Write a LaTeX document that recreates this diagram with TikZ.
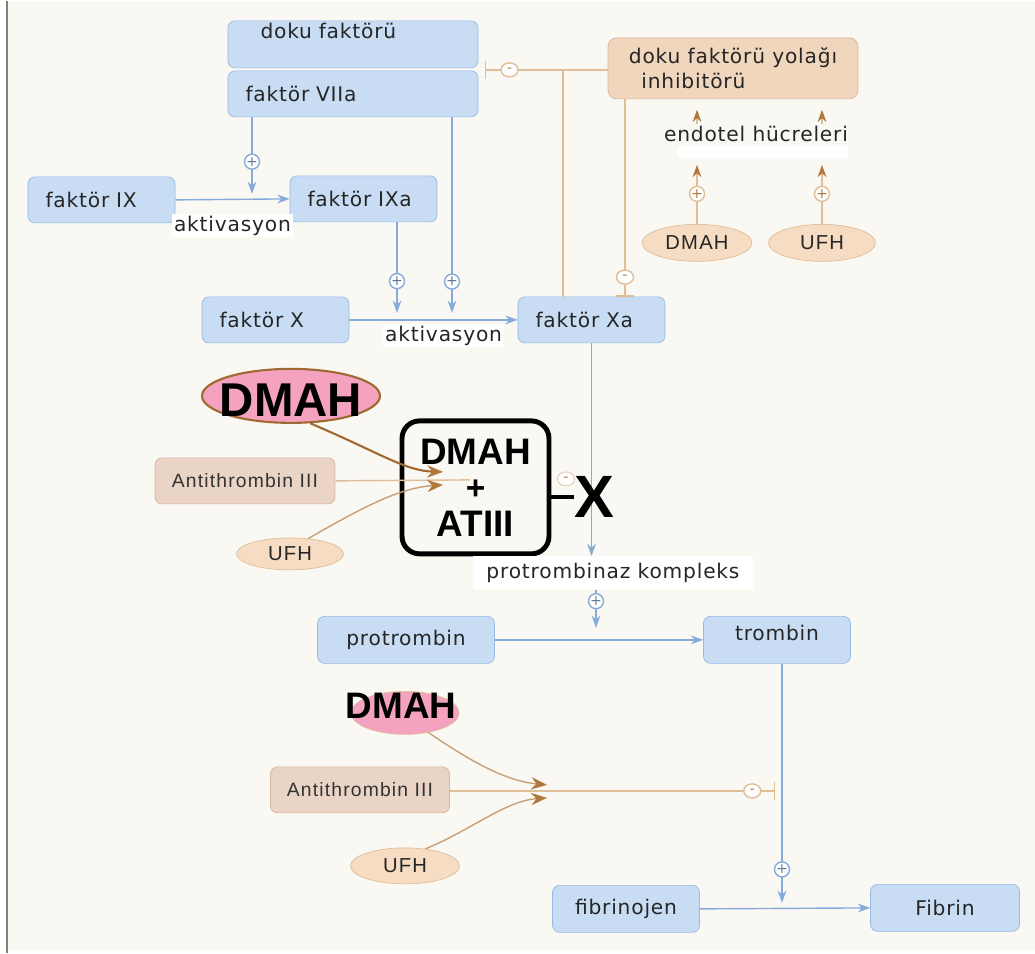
\documentclass[tikz,border=0pt]{standalone}
\usepackage{fontspec}
\setmainfont{DejaVu Sans}[LetterSpace=4]
\newfontfamily\arialfont{Liberation Sans}[LetterSpace=6]
\newfontfamily\boldarial{Liberation Sans}
\usetikzlibrary{arrows.meta,shapes.geometric}
\definecolor{bgcream}{RGB}{250,248,243}
\definecolor{fillblue}{RGB}{200,221,244}
\definecolor{boxblue}{RGB}{150,185,230}
\definecolor{lineblue}{RGB}{135,170,220}
\definecolor{tanline}{RGB}{224,190,152}
\definecolor{brownarr}{RGB}{176,120,60}
\definecolor{darkbrown}{RGB}{160,105,50}
\definecolor{peach}{RGB}{245,220,194}
\definecolor{tfpifill}{RGB}{240,214,188}
\definecolor{atfill}{RGB}{234,212,198}
\definecolor{atdraw}{RGB}{216,180,158}
\definecolor{pinkfill}{RGB}{244,162,192}
\begin{document}
\begin{tikzpicture}[x=0.02cm, y=-0.02cm,
  fac/.style={draw=boxblue, fill=fillblue, rounded corners=4pt, minimum height=0.92cm, align=left, inner xsep=10pt, text=black!85, font=\fontsize{11.5}{14}\selectfont},
  prod/.style={draw=boxblue, fill=fillblue, rounded corners=4pt, minimum height=0.94cm, text=black!85, font=\fontsize{11.5}{14}\selectfont},
  atbox/.style={draw=atdraw, fill=atfill, rounded corners=4pt, minimum width=3.58cm, minimum height=0.92cm, text=black!80, font=\arialfont\fontsize{11}{13}\selectfont},
  drug/.style={ellipse, draw=tanline, fill=peach, inner sep=0pt, text=black!85, font=\arialfont\fontsize{11.5}{13}\selectfont},
  lbl/.style={fill=white, inner sep=1pt, text=black!85, font=\fontsize{11.5}{14}\selectfont},
  blink/.style={lineblue, line width=0.8pt},
  barr/.style={blink, -{Stealth[length=7pt,width=5pt]}},
  tlink/.style={tanline, line width=0.8pt},
  tarr/.style={tlink, -{Stealth[length=7pt,width=5pt,color=brownarr]}},
  brarr/.style={brownarr!70, line width=0.8pt, -{Stealth[length=9pt,width=7pt,color=brownarr]}},
  tbar/.style={tlink, -{Bar[width=10pt]}},
  plus/.style={circle, draw=lineblue, fill=white, inner sep=0pt, minimum size=0.3cm, text=lineblue!70!black, font=\fontsize{8}{8}\selectfont},
  tplus/.style={plus, draw=tanline, text=brownarr},
  minus/.style={ellipse, draw=tanline, fill=white, inner sep=0pt, minimum width=0.34cm, minimum height=0.28cm, text=brownarr, font=\fontsize{8}{8}\selectfont}
]
% background
\fill[white] (0,0) rectangle (1035,952);
\fill[bgcream] (7,0) rectangle (1035,949);
\draw[gray, line width=1pt] (7,0) -- (7,952);
\useasboundingbox (0,0) rectangle (1035,952);

% factors
\node[fac, text width=4.3cm, minimum height=0.94cm, text depth=15pt, inner ysep=1pt] (df) at (353,43.5) {\hspace*{0.3cm}doku faktörü};
\node[fac, text width=4.3cm] (f7) at (353,93) {faktör VIIa};
\node[fac, text width=2.24cm] (fIX) at (101.5,199) {faktör IX};
\node[fac, text width=2.24cm] (fIXa) at (363.5,198) {faktör IXa};
\node[fac, text width=2.24cm] (fX) at (275.5,319) {faktör X};
\node[fac, text width=2.24cm] (fXa) at (591.5,319) {faktör Xa};

% inhibitor and drugs
\node[draw=atdraw, fill=tfpifill, rounded corners=5pt, minimum width=5cm, minimum height=1.22cm, align=left, text=black!85, font=\fontsize{11.5}{14}\selectfont] (tfpi) at (733,67.5) {doku faktörü yolağı\\\hspace*{0.25cm}inhibitörü};
\node[lbl, fill=none] (endo) at (756,133) {endotel hücreleri};
\fill[white] (677,145) rectangle (848,157);
\node[drug, minimum width=2.2cm, minimum height=0.74cm] (dm) at (697,242) {DMAH};
\node[drug, minimum width=2.14cm, minimum height=0.74cm] (uf) at (822,242) {UFH};

% middle
\node[ellipse, draw=darkbrown, line width=1.2pt, fill=pinkfill, inner sep=0pt, minimum width=3.56cm, minimum height=1.08cm] (dm1) at (291,395) {};
\node[font=\boldarial\bfseries\fontsize{27}{27}\selectfont] (dm1t) at (291,399) {DMAH};
\node[atbox, minimum width=3.6cm] (at1) at (245,480) {Antithrombin III};
\node[drug, minimum width=2.14cm, minimum height=0.64cm] (uf1) at (290,553) {UFH};
\node[draw, line width=2.8pt, rounded corners=10pt, minimum width=2.94cm, minimum height=2.66cm, align=center, font=\boldarial\bfseries\fontsize{21}{19}\selectfont] (cx) at (475.5,486.5) {DMAH\\[1pt]{\fontsize{19}{19}\selectfont+}\\[2pt]ATIII};
\node[lbl, minimum width=5.6cm, minimum height=0.66cm] (pk) at (613,572) {protrombinaz kompleks};

% lower
\node[prod, minimum width=3.54cm] (pro) at (406,639) {protrombin};
\node[prod, minimum width=2.94cm, text depth=8pt] (tro) at (777,639) {trombin};
\node[prod, minimum width=2.94cm] (fib) at (626,908) {fibrinojen};
\node[prod, minimum width=2.98cm] (fin) at (945,907) {Fibrin};
\node[ellipse, draw=tanline, fill=pinkfill, inner sep=0pt, minimum width=2.16cm, minimum height=0.86cm] (dm2) at (405,712) {};
\node[font=\boldarial\bfseries\fontsize{21}{21}\selectfont] (dm2t) at (401,705) {DMAH};
\node[atbox] (at2) at (360,789) {Antithrombin III};
\node[drug, minimum width=2.18cm, minimum height=0.72cm] (uf2) at (405,865) {UFH};

% activations
\draw[barr] (fIX.east) -- (fIXa.west) node[lbl, midway, below=8pt] (a1) {aktivasyon};
\draw[barr] (fX.east) -- (fXa.west) node[lbl, pos=0.56, below=2pt] (a2) {aktivasyon};
\coordinate (r1) at (252,193);
\draw[barr] (f7.south -| r1) -- node[plus, pos=0.58] (p1) {+} (r1);
\coordinate (r2) at (397,312);
\draw[barr] (fIXa.south -| r2) -- node[plus, pos=0.65] (p2) {+} (r2);
\coordinate (r3) at (452,312);
\draw[barr] (f7.south -| r3) -- node[plus, pos=0.84] (p3) {+} (r3);

% inhibitor links
\coordinate (h1) at (485,69);
\draw[tbar] (tfpi.west |- h1) -- node[minus, pos=0.8] (n1) {-} (h1);
\coordinate (j1) at (563,69);
\draw[tlink] (j1) -- (j1 |- fXa.north);
\coordinate (h2) at (625,296);
\draw[tbar] (tfpi.south -| h2) -- node[minus, pos=0.9] (n2) {-} (h2);
\coordinate (e1) at (697,164);
\coordinate (e2) at (822,164);
\draw[tarr] (dm.north) -- node[tplus, pos=0.51] (p4) {+} (e1);
\draw[tarr] (uf.north) -- node[tplus, pos=0.51] (p5) {+} (e2);
\draw[tarr, shorten >=6pt] (endo.north -| e1) -- (tfpi.south -| e1);
\draw[tarr, shorten >=6pt] (endo.north -| e2) -- (tfpi.south -| e2);

% complex
\coordinate (k1) at (443,471);
\coordinate (k2) at (470,479);
\coordinate (k3) at (443,484);
\draw[brarr, line width=1.2pt, darkbrown] (dm1.-55) .. controls (380,452) and (405,470) .. (k1);
\draw[tlink] (at1.east) -- (k2);
\draw[brarr] (uf1.40) .. controls (365,505) and (400,487) .. (k3);
\node[minus] (n3) at (566,478) {-};

% prothrombinase
\draw[barr] (fXa.south) -- (pk.north -| fXa.south);
\coordinate (r4) at (596,627);
\draw[barr] (pk.south -| r4) -- node[plus, pos=0.3] (p6) {+} (r4);
\draw[barr] (pro.east) -- (tro.west);
\coordinate (r5) at (782,902);
\draw[barr] (tro.south -| r5) -- node[plus, pos=0.86] (p7) {+} (r5);
\draw[barr] (fib.east) -- (fin.west);

% thrombin inhibition
\coordinate (k4) at (547,784);
\coordinate (k5) at (547,797);
\coordinate (h3) at (775,790);
\draw[brarr] (dm2.-40) .. controls (470,760) and (505,780) .. (k4);
\draw[tbar] (at2.east |- h3) -- node[minus, pos=0.93] (n4) {-} (h3);
\draw[brarr] (uf2.40) .. controls (470,830) and (505,800) .. (k5);

% X
\node[inner sep=0pt, font=\boldarial\bfseries\fontsize{34}{34}\selectfont] (bigx) at (594,496) {X};
\draw[line width=2.4pt] (bigx.west -| cx.east) -- (bigx.west);
\end{tikzpicture}
\end{document}
